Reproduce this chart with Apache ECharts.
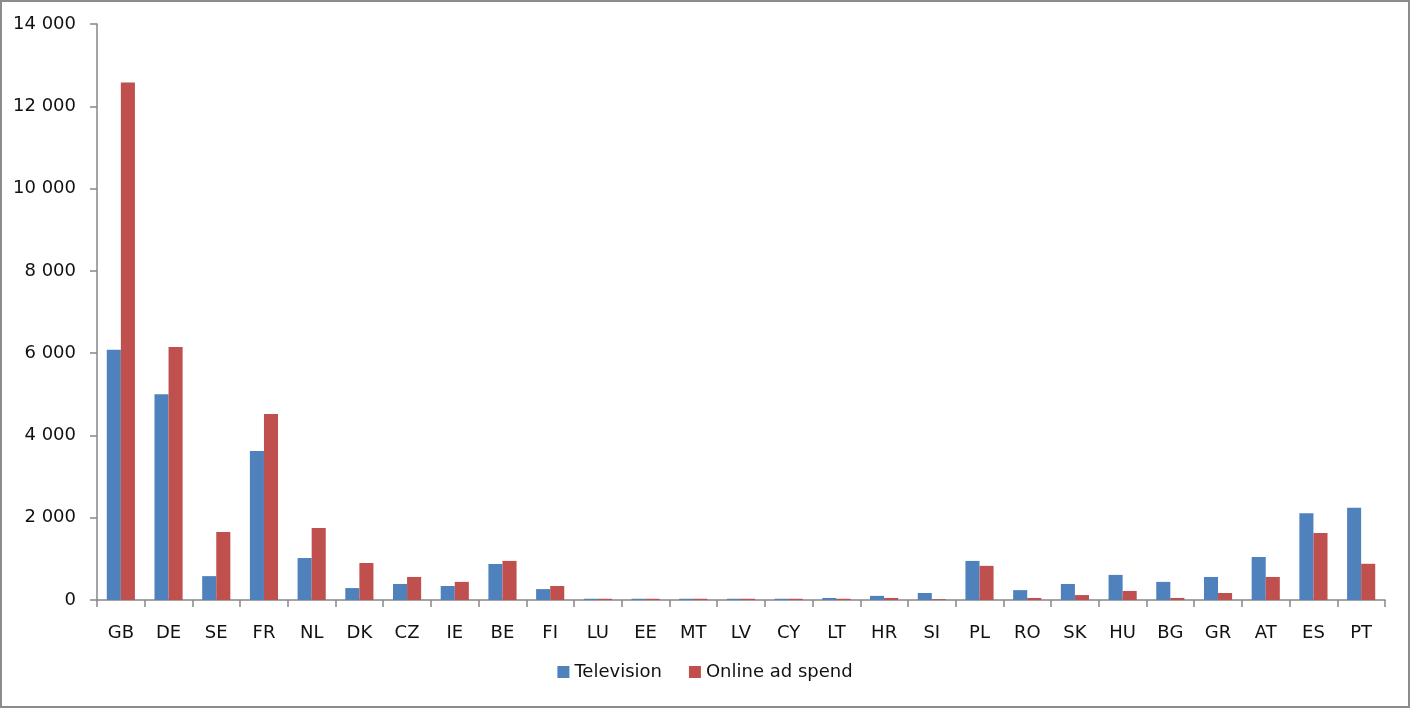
<!DOCTYPE html>
<html>
<head>
<meta charset="utf-8">
<script src="https://cdn.jsdelivr.net/npm/echarts@6/dist/echarts.min.js"></script>
<style>
  html, body { margin: 0; padding: 0; background: #fff; }
  #chart { width: 1410px; height: 708px; }
</style>
</head>
<body>
<div id="chart"></div>
<script>
// countries in the order they are plotted
let countries = ['GB', 'DE', 'SE', 'FR', 'NL', 'DK', 'CZ', 'IE', 'BE', 'FI', 'LU', 'EE', 'MT', 'LV',
	'CY', 'LT', 'HR', 'SI', 'PL', 'RO', 'SK', 'HU', 'BG', 'GR', 'AT', 'ES', 'PT'];

let television = [6080, 5000, 580, 3620, 1020, 290, 390, 340, 875, 265, 30, 30, 30, 30,
	30, 50, 100, 170, 950, 240, 390, 610, 440, 560, 1045, 2110, 2240];

let onlineAdSpend = [12580, 6150, 1650, 4520, 1750, 900, 560, 440, 950, 340, 30, 30, 30, 30,
	30, 30, 50, 20, 830, 50, 120, 220, 50, 170, 560, 1630, 880];

let yTicks = [0, 2000, 4000, 6000, 8000, 10000, 12000, 14000];

let axisGray = '#868686';
let fontName = 'DejaVu Sans';

function fmt(v) {
	// thousands separated by a space, like "12 000"
	return String(v).replace(/\B(?=(\d{3})+(?!\d))/g, ' ');
}

let chart = echarts.init(document.getElementById('chart'));

let option = {
	animation: false,
	backgroundColor: '#fff',
	textStyle: { fontFamily: fontName },
	graphic: [{
		type: 'rect',
		shape: { x: 1, y: 1, width: 1408, height: 706 },
		style: { fill: 'none', stroke: '#8c8c8c', lineWidth: 2 },
		silent: true
	}],
	legend: {
		bottom: 22,
		left: 'center',
		itemWidth: 12,
		itemHeight: 12,
		itemGap: 27,
		icon: 'rect',
		textStyle: { fontSize: 18, color: '#111', fontFamily: fontName },
		data: ['Television', 'Online ad spend']
	},
	grid: {
		left: 97,
		right: 25,
		top: 24,
		bottom: 108,
		containLabel: false
	},
	xAxis: {
		type: 'category',
		data: countries,
		axisLine: { lineStyle: { color: axisGray, width: 1.5 } },
		axisTick: { show: true, length: 7, alignWithLabel: false, lineStyle: { color: axisGray, width: 1.5 } },
		axisLabel: { color: '#111', fontSize: 18, margin: 24, interval: 0, fontFamily: fontName }
	},
	yAxis: {
		type: 'value',
		min: yTicks[0],
		max: yTicks[yTicks.length - 1],
		interval: 2000,
		axisLine: { show: true, lineStyle: { color: axisGray, width: 1.5 } },
		axisTick: { show: true, length: 7, lineStyle: { color: axisGray, width: 1.5 } },
		splitLine: { show: false },
		axisLabel: {
			color: '#111',
			fontSize: 18,
			margin: 21,
			fontFamily: fontName,
			formatter: fmt
		}
	},
	series: [{
		name: 'Television',
		type: 'bar',
		data: television,
		barGap: '0%',
		barCategoryGap: '41%',
		itemStyle: { color: '#4F81BD' }
	}, {
		name: 'Online ad spend',
		type: 'bar',
		data: onlineAdSpend,
		barGap: '0%',
		barCategoryGap: '41%',
		itemStyle: { color: '#C0504D' }
	}]
};

chart.setOption(option);
</script>
</body>
</html>
